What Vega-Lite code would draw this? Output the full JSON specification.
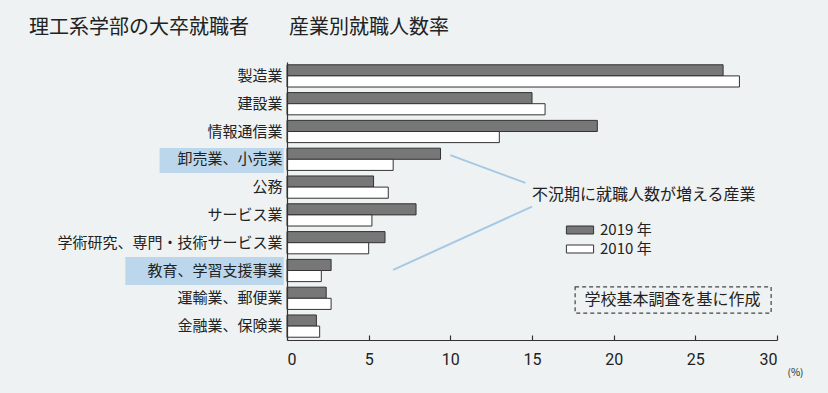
{
  "$schema": "https://vega.github.io/schema/vega-lite/v6.json",
  "width": 490,
  "height": 278,
  "autosize": {"type": "none"},
  "padding": {"left": 287, "top": 62, "right": 51, "bottom": 53},
  "background": "#eef2f2",
  "title": {
    "text": "理工系学部の大卒就職者　　産業別就職人数率",
    "anchor": "start",
    "frame": "group",
    "dx": -258,
    "offset": 24,
    "fontSize": 20,
    "font": "Noto Sans CJK JP",
    "fontWeight": "normal",
    "color": "#222222"
  },
  "config": {
    "view": {"stroke": null},
    "font": "Noto Sans CJK JP"
  },
  "datasets": {
    "rates": [
      {"industry": "製造業", "year": "2019", "rate": 26.7},
      {"industry": "製造業", "year": "2010", "rate": 27.7},
      {"industry": "建設業", "year": "2019", "rate": 15.0},
      {"industry": "建設業", "year": "2010", "rate": 15.8},
      {"industry": "情報通信業", "year": "2019", "rate": 19.0},
      {"industry": "情報通信業", "year": "2010", "rate": 13.0},
      {"industry": "卸売業、小売業", "year": "2019", "rate": 9.4},
      {"industry": "卸売業、小売業", "year": "2010", "rate": 6.5},
      {"industry": "公務", "year": "2019", "rate": 5.3},
      {"industry": "公務", "year": "2010", "rate": 6.2},
      {"industry": "サービス業", "year": "2019", "rate": 7.9},
      {"industry": "サービス業", "year": "2010", "rate": 5.2},
      {"industry": "学術研究、専門・技術サービス業", "year": "2019", "rate": 6.0},
      {"industry": "学術研究、専門・技術サービス業", "year": "2010", "rate": 5.0},
      {"industry": "教育、学習支援事業", "year": "2019", "rate": 2.7},
      {"industry": "教育、学習支援事業", "year": "2010", "rate": 2.1},
      {"industry": "運輸業、郵便業", "year": "2019", "rate": 2.4},
      {"industry": "運輸業、郵便業", "year": "2010", "rate": 2.7},
      {"industry": "金融業、保険業", "year": "2019", "rate": 1.8},
      {"industry": "金融業、保険業", "year": "2010", "rate": 2.0}
    ],
    "highlights": [
      {"industry": "卸売業、小売業", "xa": -7.8, "xb": -0.2, "ra": 3.09, "rb": 3.99},
      {"industry": "教育、学習支援事業", "xa": -9.9, "xb": -0.2, "ra": 7.01, "rb": 8.02}
    ],
    "pointers": [
      {"target": "卸売業、小売業", "xa": 10.0, "ra": 3.35, "xb": 14.6, "rb": 4.35},
      {"target": "教育、学習支援事業", "xa": 6.5, "ra": 7.48, "xb": 15.0, "rb": 5.2}
    ],
    "notes": [
      {"text": "不況期に就職人数が増える産業", "x": 15.0, "r": 4.78}
    ],
    "source": [
      {"text": "学校基本調査を基に作成", "xa": 17.64, "xb": 29.64, "ra": 8.09, "rb": 9.03, "x": 23.6, "r": 8.56}
    ]
  },
  "resolve": {"scale": {"y": "independent"}},
  "layer": [
    {
      "data": {"name": "highlights"},
      "mark": {"type": "rect", "color": "#bcd7ec"},
      "encoding": {
        "x": {"field": "xa", "type": "quantitative", "scale": {"domain": [0, 30], "nice": false}},
        "x2": {"field": "xb"},
        "y": {"field": "ra", "type": "quantitative", "scale": {"domain": [0, 10], "reverse": true, "nice": false, "zero": false}, "axis": null},
        "y2": {"field": "rb"}
      }
    },
    {
      "data": {"name": "rates"},
      "mark": {"type": "bar", "stroke": "#333333", "strokeWidth": 1},
      "encoding": {
        "y": {
          "field": "industry",
          "type": "nominal",
          "sort": ["製造業", "建設業", "情報通信業", "卸売業、小売業", "公務", "サービス業", "学術研究、専門・技術サービス業", "教育、学習支援事業", "運輸業、郵便業", "金融業、保険業"],
          "scale": {"paddingInner": 0.2, "paddingOuter": 0.1},
          "axis": {
            "title": null,
            "ticks": false,
            "labelFontSize": 15,
            "labelLimit": 0,
            "labelColor": "#222222",
            "labelPadding": 5,
            "domainColor": "#333333",
            "domainWidth": 1.2,
            "zindex": 1,
            "labelFont": "Noto Sans CJK JP"
          }
        },
        "yOffset": {
          "field": "year",
          "type": "nominal",
          "sort": ["2019", "2010"],
          "scale": {"paddingInner": 0, "paddingOuter": 0}
        },
        "x": {
          "field": "rate",
          "type": "quantitative",
          "scale": {"domain": [0, 30], "nice": false},
          "axis": {
            "values": [0, 5, 10, 15, 20, 25, 30],
            "grid": false,
            "tickSize": -5,
            "tickColor": "#333333",
            "tickWidth": 1.2,
            "domainColor": "#333333",
            "domainWidth": 1.2,
            "labelFontSize": 16,
            "labelFont": "Roboto",
            "labelColor": "#222222",
            "labelPadding": 16,
            "zindex": 1,
            "title": "(%)",
            "titleFontSize": 10,
            "titleFontWeight": "normal",
            "titleColor": "#222222",
            "titleAlign": "left",
            "titleAnchor": null,
            "titleX": 500,
            "titleY": 32,
            "titleBaseline": "middle"
          }
        },
        "color": {
          "field": "year",
          "type": "nominal",
          "scale": {"domain": ["2019", "2010"], "range": ["#777777", "#ffffff"]},
          "legend": {
            "orient": "none",
            "legendX": 284,
            "legendY": 159,
            "title": null,
            "padding": 0,
            "symbolType": "M-1.6,-0.47H1.6V0.47H-1.6Z",
            "symbolSize": 289,
            "symbolStrokeColor": "#333333",
            "symbolStrokeWidth": 1,
            "labelFontSize": 15,
            "labelColor": "#222222",
            "labelFont": "Noto Sans CJK JP",
            "labelOffset": 11,
            "labelExpr": "datum.label + ' 年'",
            "rowPadding": 2
          }
        }
      }
    },
    {
      "data": {"name": "pointers"},
      "mark": {"type": "rule", "color": "#a6c8e4", "strokeWidth": 2},
      "encoding": {
        "x": {"field": "xa", "type": "quantitative", "scale": {"domain": [0, 30], "nice": false}},
        "x2": {"field": "xb"},
        "y": {"field": "ra", "type": "quantitative", "scale": {"domain": [0, 10], "reverse": true, "nice": false, "zero": false}, "axis": null},
        "y2": {"field": "rb"}
      }
    },
    {
      "data": {"name": "notes"},
      "mark": {"type": "text", "align": "left", "baseline": "middle", "fontSize": 16, "color": "#222222", "font": "Noto Sans CJK JP"},
      "encoding": {
        "x": {"field": "x", "type": "quantitative", "scale": {"domain": [0, 30], "nice": false}},
        "y": {"field": "r", "type": "quantitative", "scale": {"domain": [0, 10], "reverse": true, "nice": false, "zero": false}, "axis": null},
        "text": {"field": "text"}
      }
    },
    {
      "data": {"name": "source"},
      "mark": {"type": "rect", "fill": null, "stroke": "#444444", "strokeWidth": 1.2, "strokeDash": [4, 3]},
      "encoding": {
        "x": {"field": "xa", "type": "quantitative", "scale": {"domain": [0, 30], "nice": false}},
        "x2": {"field": "xb"},
        "y": {"field": "ra", "type": "quantitative", "scale": {"domain": [0, 10], "reverse": true, "nice": false, "zero": false}, "axis": null},
        "y2": {"field": "rb"}
      }
    },
    {
      "data": {"name": "source"},
      "mark": {"type": "text", "align": "center", "baseline": "middle", "fontSize": 16, "color": "#222222", "font": "Noto Sans CJK JP"},
      "encoding": {
        "x": {"field": "x", "type": "quantitative", "scale": {"domain": [0, 30], "nice": false}},
        "y": {"field": "r", "type": "quantitative", "scale": {"domain": [0, 10], "reverse": true, "nice": false, "zero": false}, "axis": null},
        "text": {"field": "text"}
      }
    }
  ]
}
